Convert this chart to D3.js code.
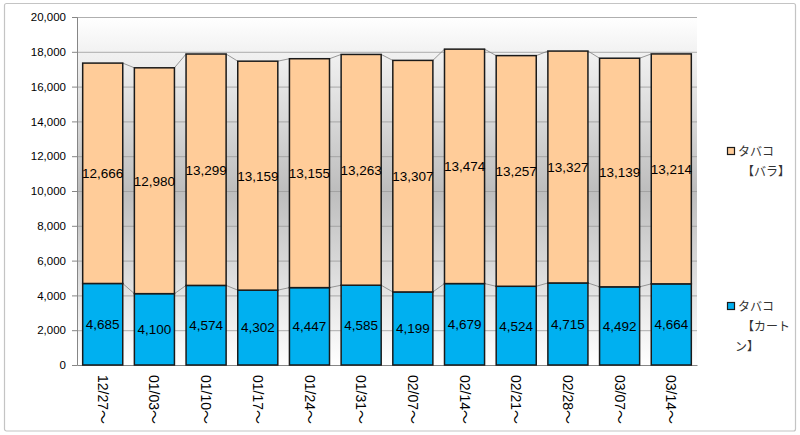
<!DOCTYPE html>
<html><head><meta charset="utf-8">
<script src="https://cdn.jsdelivr.net/npm/d3@7"></script>
<style>body{margin:0;background:#fff}svg{display:block}</style>
</head><body>
<svg id="c" width="800" height="435"></svg>
<script>
const categories = ["12/27～","01/03～","01/10～","01/17～","01/24～","01/31～","02/07～","02/14～","02/21～","02/28～","03/07～","03/14～"];
const carton = [4685,4100,4574,4302,4447,4585,4199,4679,4524,4715,4492,4664];
const bara = [12666,12980,13299,13159,13155,13263,13307,13474,13257,13327,13139,13214];
const yTicks = [0,2000,4000,6000,8000,10000,12000,14000,16000,18000,20000];
const colors = ["#00B0F0","#FFCC99"];

const svg = d3.select("#c");
const L=77,R=697,T=17,B=365;
const fmt = d3.format(",");

svg.append("rect").attr("x",4.5).attr("y",3.5).attr("width",791).attr("height",427.5)
  .attr("fill","#fff").attr("stroke","#c4c4c4").attr("stroke-width",1.2).attr("rx",2);

const defs = svg.append("defs");
const g = defs.append("linearGradient").attr("id","bg").attr("x1",0).attr("x2",0).attr("y1",0).attr("y2",1);
g.append("stop").attr("offset","0%").attr("stop-color","#ffffff");
g.append("stop").attr("offset","50%").attr("stop-color","#bdbdbd");
g.append("stop").attr("offset","100%").attr("stop-color","#ffffff");

svg.append("rect").attr("x",L).attr("y",T).attr("width",R-L).attr("height",B-T).attr("fill","url(#bg)");

const x = d3.scaleBand().domain(categories).range([L,R]).paddingInner(0.225).paddingOuter(0.11);
const y = d3.scaleLinear().domain([0,20000]).range([B,T]);

// gridlines
svg.append("g").selectAll("line").data(yTicks.slice(1)).join("line")
  .attr("x1",L).attr("x2",R).attr("y1",d=>y(d)+0.5).attr("y2",d=>y(d)+0.5)
  .attr("stroke","#9a9a9a").attr("stroke-width",0.8);

// axes
const yAxis = svg.append("g").attr("transform",`translate(${L},0)`)
  .call(d3.axisLeft(y).tickValues(yTicks).tickFormat(fmt).tickSize(5).tickPadding(6));
yAxis.select(".domain").attr("stroke","#868686");
yAxis.selectAll(".tick line").attr("stroke","#868686");
yAxis.selectAll("text").attr("font-family","'Liberation Sans',Arial,sans-serif").attr("font-size","11.5px").attr("fill","#000");

const xAxis = svg.append("g").attr("transform",`translate(0,${B})`)
  .call(d3.axisBottom(x).tickSize(0).tickPadding(0));
xAxis.select(".domain").attr("stroke","#868686");
xAxis.selectAll("text").attr("font-family","'Liberation Sans','Noto Sans CJK JP',sans-serif").attr("font-size","14px").attr("fill","#000")
  .attr("transform","translate(0,10) rotate(90)").attr("text-anchor","start").attr("dy","0.35em").attr("dx","0");

const stacked = categories.map((c,i)=>({c, s:[[0,carton[i]],[carton[i],carton[i]+bara[i]]]}));

// series lines
[0,1].forEach(k=>{
  const segs = [];
  for(let i=0;i<categories.length-1;i++){
    segs.push([x(categories[i])+x.bandwidth(), y(stacked[i].s[k][1]), x(categories[i+1]), y(stacked[i+1].s[k][1])]);
  }
  svg.append("g").selectAll("line").data(segs).join("line")
    .attr("x1",d=>d[0]).attr("y1",d=>d[1]).attr("x2",d=>d[2]).attr("y2",d=>d[3])
    .attr("stroke","#808080").attr("stroke-width",0.8);
});

// bars
[0,1].forEach(k=>{
  svg.append("g").selectAll("rect").data(stacked).join("rect")
    .attr("x",d=>x(d.c)).attr("width",x.bandwidth())
    .attr("y",d=>y(d.s[k][1])).attr("height",d=>y(d.s[k][0])-y(d.s[k][1]))
    .attr("fill",colors[k]).attr("stroke","#1a1a1a").attr("stroke-width",1.5);
});

// labels
const vals=[carton,bara];
[0,1].forEach(k=>{
  svg.append("g").selectAll("text").data(stacked).join("text")
    .attr("x",d=>x(d.c)+x.bandwidth()/2)
    .attr("y",d=>(y(d.s[k][0])+y(d.s[k][1]))/2)
    .attr("dy","0.36em").attr("text-anchor","middle")
    .attr("font-family","'Liberation Sans',Arial,sans-serif").attr("font-size","13.5px").attr("fill","#000")
    .text((d,i)=>fmt(vals[k][i]));
});

// legend
const leg = [
  {k:1, y:152, lines:["タバコ","【バラ】"]},
  {k:0, y:307, lines:["タバコ","【カート","ン】"]}
];
leg.forEach(l=>{
  svg.append("rect").attr("x",727.5).attr("y",l.y-4.5).attr("width",7).attr("height",7)
    .attr("fill",colors[l.k]).attr("stroke","#1a1a1a").attr("stroke-width",1.2);
  l.lines.forEach((t,j)=>{
    svg.append("text").attr("x", j===0?738:(t==="ン】"?735:742)).attr("y",l.y+j*20).attr("dy","0.35em")
      .attr("font-family","'Noto Sans CJK JP',sans-serif").attr("font-size","12px").attr("fill","#333")
      .text(t);
  });
});
</script>
</body></html>
